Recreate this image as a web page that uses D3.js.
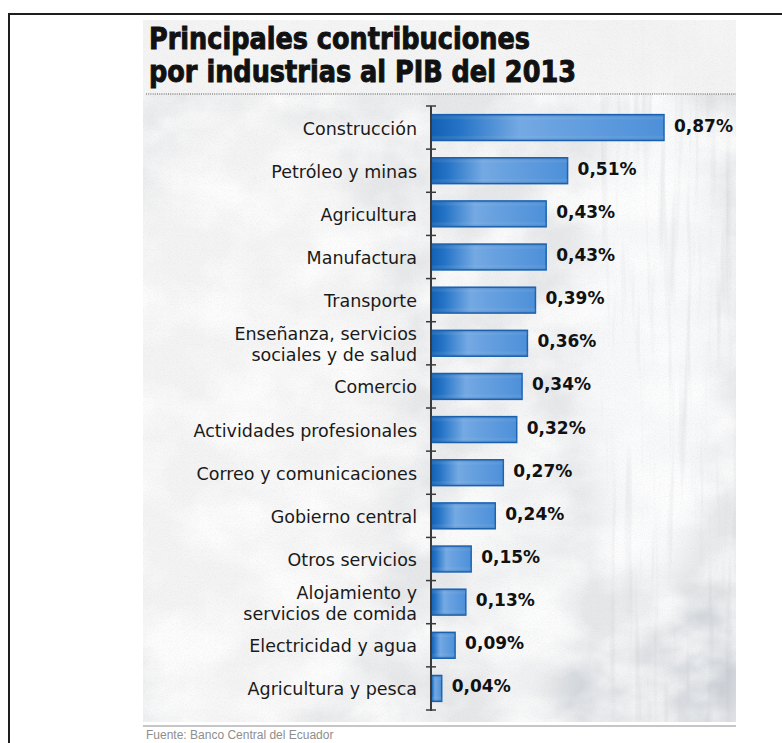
<!DOCTYPE html>
<html lang="es">
<head>
<meta charset="utf-8">
<script src="https://cdn.jsdelivr.net/npm/d3@7"></script>
<style>
  html, body { margin: 0; padding: 0; background: #fff; }
  svg { display: block; }
</style>
</head>
<body>
<svg id="chart" width="782" height="743"></svg>
<script>
// Contribución de cada industria al crecimiento del PIB, 2013 (puntos porcentuales)
const categories = [
  "Construcción",
  "Petróleo y minas",
  "Agricultura",
  "Manufactura",
  "Transporte",
  "Enseñanza, servicios sociales y de salud",
  "Comercio",
  "Actividades profesionales",
  "Correo y comunicaciones",
  "Gobierno central",
  "Otros servicios",
  "Alojamiento y servicios de comida",
  "Electricidad y agua",
  "Agricultura y pesca"
];
const values = [0.87, 0.51, 0.43, 0.43, 0.39, 0.36, 0.34, 0.32, 0.27, 0.24, 0.15, 0.13, 0.09, 0.04];
const labelBreaks = {
  "Enseñanza, servicios sociales y de salud": ["Enseñanza, servicios", "sociales y de salud"],
  "Alojamiento y servicios de comida": ["Alojamiento y", "servicios de comida"]
};
const titleLines = ["Principales contribuciones", "por industrias al PIB del 2013"];
const sourceText = "Fuente: Banco Central del Ecuador";

const data = categories.map((c, i) => ({ name: c, value: values[i] }));

const svg = d3.select("#chart");
const defs = svg.append("defs");

// Panel geometry
const panel = { x0: 143, x1: 736, y0: 20, y1: 722 };

// --- background textures ---
const grain = defs.append("filter").attr("id", "grain")
  .attr("x", 0).attr("y", 0).attr("width", "100%").attr("height", "100%");
grain.append("feTurbulence").attr("type", "fractalNoise")
  .attr("baseFrequency", 0.85).attr("numOctaves", 2).attr("seed", 7).attr("result", "n");
grain.append("feColorMatrix").attr("in", "n").attr("type", "matrix")
  .attr("values", "0 0 0 0 0.55  0 0 0 0 0.56  0 0 0 0 0.58  1.6 0 0 0 -0.75");

const clouds = defs.append("filter").attr("id", "clouds")
  .attr("x", 0).attr("y", 0).attr("width", "100%").attr("height", "100%");
clouds.append("feTurbulence").attr("type", "fractalNoise")
  .attr("baseFrequency", "0.014 0.018").attr("numOctaves", 4).attr("seed", 11).attr("result", "n");
clouds.append("feColorMatrix").attr("in", "n").attr("type", "matrix")
  .attr("values", "0 0 0 0 1  0 0 0 0 1  0 0 0 0 1  2.4 0 0 0 -0.8");

const streaks = defs.append("filter").attr("id", "streaks")
  .attr("x", 0).attr("y", 0).attr("width", "100%").attr("height", "100%");
streaks.append("feTurbulence").attr("type", "fractalNoise")
  .attr("baseFrequency", "0.12 0.006").attr("numOctaves", 3).attr("seed", 4).attr("result", "n");
streaks.append("feColorMatrix").attr("in", "n").attr("type", "matrix")
  .attr("values", "0 0 0 0 0.5  0 0 0 0 0.52  0 0 0 0 0.56  2.2 0 0 0 -1.15");

const soft = defs.append("filter").attr("id", "soft")
  .attr("x", "-50%").attr("y", "-50%").attr("width", "200%").attr("height", "200%");
soft.append("feGaussianBlur").attr("stdDeviation", 14);

const clipP = defs.append("clipPath").attr("id", "panelClip");
clipP.append("rect").attr("x", panel.x0).attr("y", panel.y0)
  .attr("width", panel.x1 - panel.x0).attr("height", panel.y1 - panel.y0);

const bg = svg.append("g").attr("clip-path", "url(#panelClip)");
bg.append("rect").attr("x", panel.x0).attr("y", panel.y0)
  .attr("width", panel.x1 - panel.x0).attr("height", panel.y1 - panel.y0)
  .attr("fill", "#e6e7e9");
// pale ice shapes
bg.append("ellipse").attr("cx", 250).attr("cy", 420).attr("rx", 150).attr("ry", 320)
  .attr("fill", "#f3f3f3").attr("filter", "url(#soft)");
bg.append("ellipse").attr("cx", 650).attr("cy", 330).attr("rx", 70).attr("ry", 260)
  .attr("fill", "#f7f8f9").attr("filter", "url(#soft)");
bg.append("ellipse").attr("cx", 520).attr("cy", 560).attr("rx", 45).attr("ry", 160)
  .attr("fill", "#f0f1f2").attr("filter", "url(#soft)");
bg.append("ellipse").attr("cx", 700).attr("cy", 660).attr("rx", 45).attr("ry", 70)
  .attr("fill", "#c9ced4").attr("filter", "url(#soft)");
bg.append("ellipse").attr("cx", 600).attr("cy", 690).attr("rx", 40).attr("ry", 40)
  .attr("fill", "#d2d6db").attr("filter", "url(#soft)");
bg.append("rect").attr("x", panel.x0).attr("y", panel.y0)
  .attr("width", panel.x1 - panel.x0).attr("height", panel.y1 - panel.y0)
  .attr("filter", "url(#clouds)").attr("opacity", 0.8);
bg.append("rect").attr("x", 600).attr("y", panel.y0)
  .attr("width", panel.x1 - 600).attr("height", panel.y1 - panel.y0)
  .attr("filter", "url(#streaks)").attr("opacity", 0.35);
// title strip is lighter
bg.append("rect").attr("x", panel.x0).attr("y", panel.y0)
  .attr("width", panel.x1 - panel.x0).attr("height", 74)
  .attr("fill", "#f4f4f4").attr("opacity", 0.85);
bg.append("rect").attr("x", panel.x0).attr("y", panel.y0)
  .attr("width", panel.x1 - panel.x0).attr("height", panel.y1 - panel.y0)
  .attr("filter", "url(#grain)").attr("opacity", 0.3);

// --- outer frame ---
svg.append("path").attr("d", "M9,743 V14 H782")
  .attr("fill", "none").attr("stroke", "#1e1e1e").attr("stroke-width", 2);

// --- title ---
const titleX = 149;
const titleWidths = [381, 427];
const titleBase = [48.5, 82];
svg.append("g").selectAll("text").data(titleLines).join("text")
  .attr("x", titleX).attr("y", (d, i) => titleBase[i])
  .attr("font-family", "'Liberation Sans Narrow', 'DejaVu Sans Condensed', 'Liberation Sans', sans-serif")
  .attr("font-weight", 700).attr("font-size", 30).attr("fill", "#111")
  .attr("stroke", "#111").attr("stroke-width", 0.9)
  .attr("textLength", (d, i) => titleWidths[i]).attr("lengthAdjust", "spacingAndGlyphs")
  .text(d => d);

// dotted rule under the title
svg.append("line").attr("x1", panel.x0 + 3).attr("x2", panel.x1).attr("y1", 94).attr("y2", 94)
  .attr("stroke", "#555").attr("stroke-width", 1.2).attr("stroke-dasharray", "1 1.2");

// --- scales ---
const rowTop = 106, rowBottom = 710;
const y = d3.scaleBand().domain(categories).range([rowTop, rowBottom]).padding(0);
const yBar = d3.scaleBand().domain(categories).range([rowTop, rowBottom])
  .paddingInner(0.4).paddingOuter(0.2);
const axisX = 431;
const x = d3.scaleLinear().domain([0, d3.max(values)]).range([axisX, 664]);

// bar gradient
const grad = defs.append("linearGradient").attr("id", "barGrad")
  .attr("x1", 0).attr("x2", 1).attr("y1", 0).attr("y2", 0);
[[0, "#1260b2"], [0.12, "#2473c6"], [0.38, "#74a9e3"], [0.55, "#68a1e0"], [1, "#4d90d9"]]
  .forEach(([o, c]) => grad.append("stop").attr("offset", o).attr("stop-color", c));
const vgrad = defs.append("linearGradient").attr("id", "barShade")
  .attr("x1", 0).attr("x2", 0).attr("y1", 0).attr("y2", 1);
[[0, "#0d4f98", 0.35], [0.2, "#ffffff", 0], [0.8, "#ffffff", 0], [1, "#0d4f98", 0.35]]
  .forEach(([o, c, a]) => vgrad.append("stop").attr("offset", o).attr("stop-color", c).attr("stop-opacity", a));

// --- bars ---
const bars = svg.append("g");
bars.selectAll("rect.bar").data(data).join("rect").attr("class", "bar")
  .attr("x", x(0)).attr("y", d => yBar(d.name))
  .attr("width", d => x(d.value) - x(0)).attr("height", yBar.bandwidth())
  .attr("fill", "url(#barGrad)").attr("stroke", "#1b64b2").attr("stroke-width", 1.5);
bars.selectAll("rect.shade").data(data).join("rect").attr("class", "shade")
  .attr("x", x(0)).attr("y", d => yBar(d.name))
  .attr("width", d => x(d.value) - x(0)).attr("height", yBar.bandwidth())
  .attr("fill", "url(#barShade)");

// --- axis with ticks at row boundaries ---
const axis = svg.append("g");
const boundaries = categories.map(c => y(c)).concat([y(categories[categories.length - 1]) + y.step()]);
axis.append("line").attr("x1", axisX).attr("x2", axisX)
  .attr("y1", rowTop).attr("y2", rowBottom + 1)
  .attr("stroke", "#3a3a3a").attr("stroke-width", 2);
axis.selectAll("line.tick").data(boundaries).join("line").attr("class", "tick")
  .attr("x1", axisX - 5).attr("x2", axisX + 5)
  .attr("y1", d => d).attr("y2", d => d)
  .attr("stroke", "#3a3a3a").attr("stroke-width", 1.5);

// --- category labels ---
const fmt = d3.format(".2f");
const cats = svg.append("g")
  .attr("font-family", "'DejaVu Sans', sans-serif").attr("font-size", 17.5)
  .attr("fill", "#1a1a1a").attr("text-anchor", "end");
data.forEach(d => {
  const lines = labelBreaks[d.name] || [d.name];
  const c = y(d.name) + y.step() / 2;
  const lh = 21;
  const first = c + 7 - (lines.length - 1) * lh / 2;
  const t = cats.append("text").attr("x", 417).attr("y", first);
  lines.forEach((ln, i) => {
    t.append("tspan").attr("x", 417).attr("y", first + i * lh).text(ln);
  });
});

// --- value labels ---
svg.append("g")
  .attr("font-family", "'DejaVu Sans', sans-serif").attr("font-weight", 700)
  .attr("font-size", 17).attr("fill", "#111")
  .selectAll("text").data(data).join("text")
  .attr("x", d => x(d.value) + 10)
  .attr("y", d => yBar(d.name) + yBar.bandwidth() / 2 + 4)
  .text(d => fmt(d.value).replace(".", ",") + "%");

// --- source ---
svg.append("line").attr("x1", panel.x0).attr("x2", panel.x1).attr("y1", 726).attr("y2", 726)
  .attr("stroke", "#c6c6c6").attr("stroke-width", 2);
svg.append("text").attr("x", 146).attr("y", 739)
  .attr("font-family", "'Liberation Sans', sans-serif").attr("font-size", 12)
  .attr("fill", "#8e8e8e").text(sourceText);
</script>
</body>
</html>
